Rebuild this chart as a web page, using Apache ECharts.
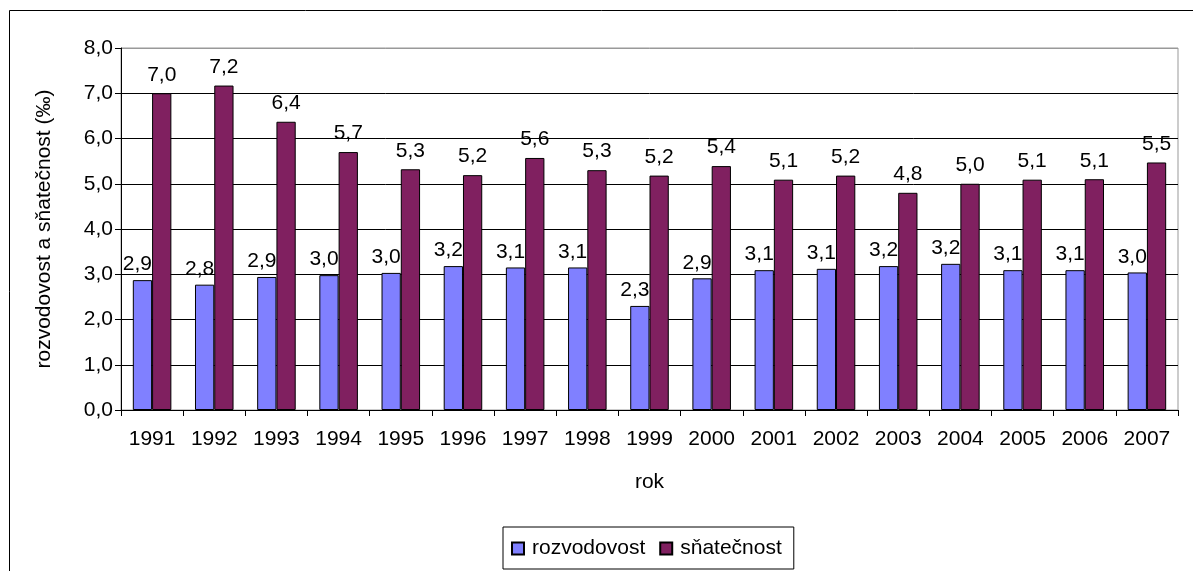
<!DOCTYPE html>
<html><head><meta charset="utf-8">
<script src="https://cdn.jsdelivr.net/npm/echarts@6/dist/echarts.min.js"></script>
<style>html,body{margin:0;padding:0;background:#fff}#c{width:1193px;height:571px}</style>
</head><body><div id="c"></div>
<script>
const years = ['1991','1992','1993','1994','1995','1996','1997','1998','1999','2000','2001','2002','2003','2004','2005','2006','2007'];
const rozvodovost = [2.87,2.77,2.94,2.98,3.03,3.18,3.15,3.15,2.30,2.91,3.09,3.12,3.18,3.23,3.09,3.09,3.04];
const snatecnost = [7.0,7.17,6.37,5.7,5.32,5.19,5.57,5.3,5.18,5.39,5.09,5.18,4.8,5.0,5.09,5.1,5.47];
const yTicksMax = 8;

const fmt = v => v.toFixed(1).replace('.', ',');
const FONT = 'Liberation Sans, Arial, sans-serif';
const FS = 21;
const chart = echarts.init(document.getElementById('c'));
const splitColors = Array.from({length: yTicksMax + 1}, (_, i) => i === yTicksMax ? '#999' : '#000');
chart.setOption({
  animation: false,
  textStyle: {fontFamily: FONT, color: '#000'},
  graphic: [{type: 'rect', shape: {x: 9.5, y: 10.5, width: 1300, height: 700}, style: {fill: 'none', stroke: '#000', lineWidth: 1}, silent: true, z: -1}],
  grid: {left: 121, right: 15, top: 48, bottom: 161, show: true, borderColor: '#999', borderWidth: 1, backgroundColor: 'transparent'},
  legend: {
    left: 503, top: 527, padding: [11, 12, 10, 8], itemGap: 14,
    borderColor: '#000', borderWidth: 1,
    itemWidth: 12, itemHeight: 12, icon: 'rect',
    textStyle: {fontFamily: FONT, fontSize: FS, color: '#000', padding: [0, 0, 0, 3]}
  },
  xAxis: {
    type: 'category', data: years,
    name: 'rok', nameLocation: 'middle', nameGap: 62,
    nameTextStyle: {fontFamily: FONT, fontSize: FS, color: '#000'},
    axisLine: {lineStyle: {color: '#000', width: 1}},
    axisTick: {show: true, alignWithLabel: false, length: 6, lineStyle: {color: '#000'}},
    axisLabel: {fontFamily: FONT, fontSize: FS, color: '#000', margin: 19}
  },
  yAxis: {
    type: 'value', min: 0, max: yTicksMax, interval: 1,
    name: 'rozvodovost a sňatečnost (‰)', nameLocation: 'middle', nameGap: 66,
    nameTextStyle: {fontFamily: FONT, fontSize: FS, color: '#000'},
    axisLine: {show: true, lineStyle: {color: '#000'}},
    axisTick: {show: true, length: 6, lineStyle: {color: '#000'}},
    axisLabel: {fontFamily: FONT, fontSize: FS, color: '#000', margin: 8, formatter: v => fmt(v)},
    splitLine: {show: true, lineStyle: {color: splitColors, width: 1}}
  },
  series: [
    {name: 'rozvodovost', type: 'bar', data: rozvodovost, barGap: '0%', barCategoryGap: '38%',
     itemStyle: {color: '#8080FF', borderColor: '#000', borderWidth: 1},
     label: {show: true, position: 'top', distance: 5, offset: [-5, 0], fontFamily: FONT, fontSize: FS, color: '#000', formatter: p => fmt(p.value)}},
    {name: 'sňatečnost', type: 'bar', data: snatecnost, barGap: '0%', barCategoryGap: '38%',
     itemStyle: {color: '#802060', borderColor: '#000', borderWidth: 1},
     label: {show: true, position: 'top', distance: 8, fontFamily: FONT, fontSize: FS, color: '#000', formatter: p => fmt(p.value)}}
  ]
});
</script></body></html>
